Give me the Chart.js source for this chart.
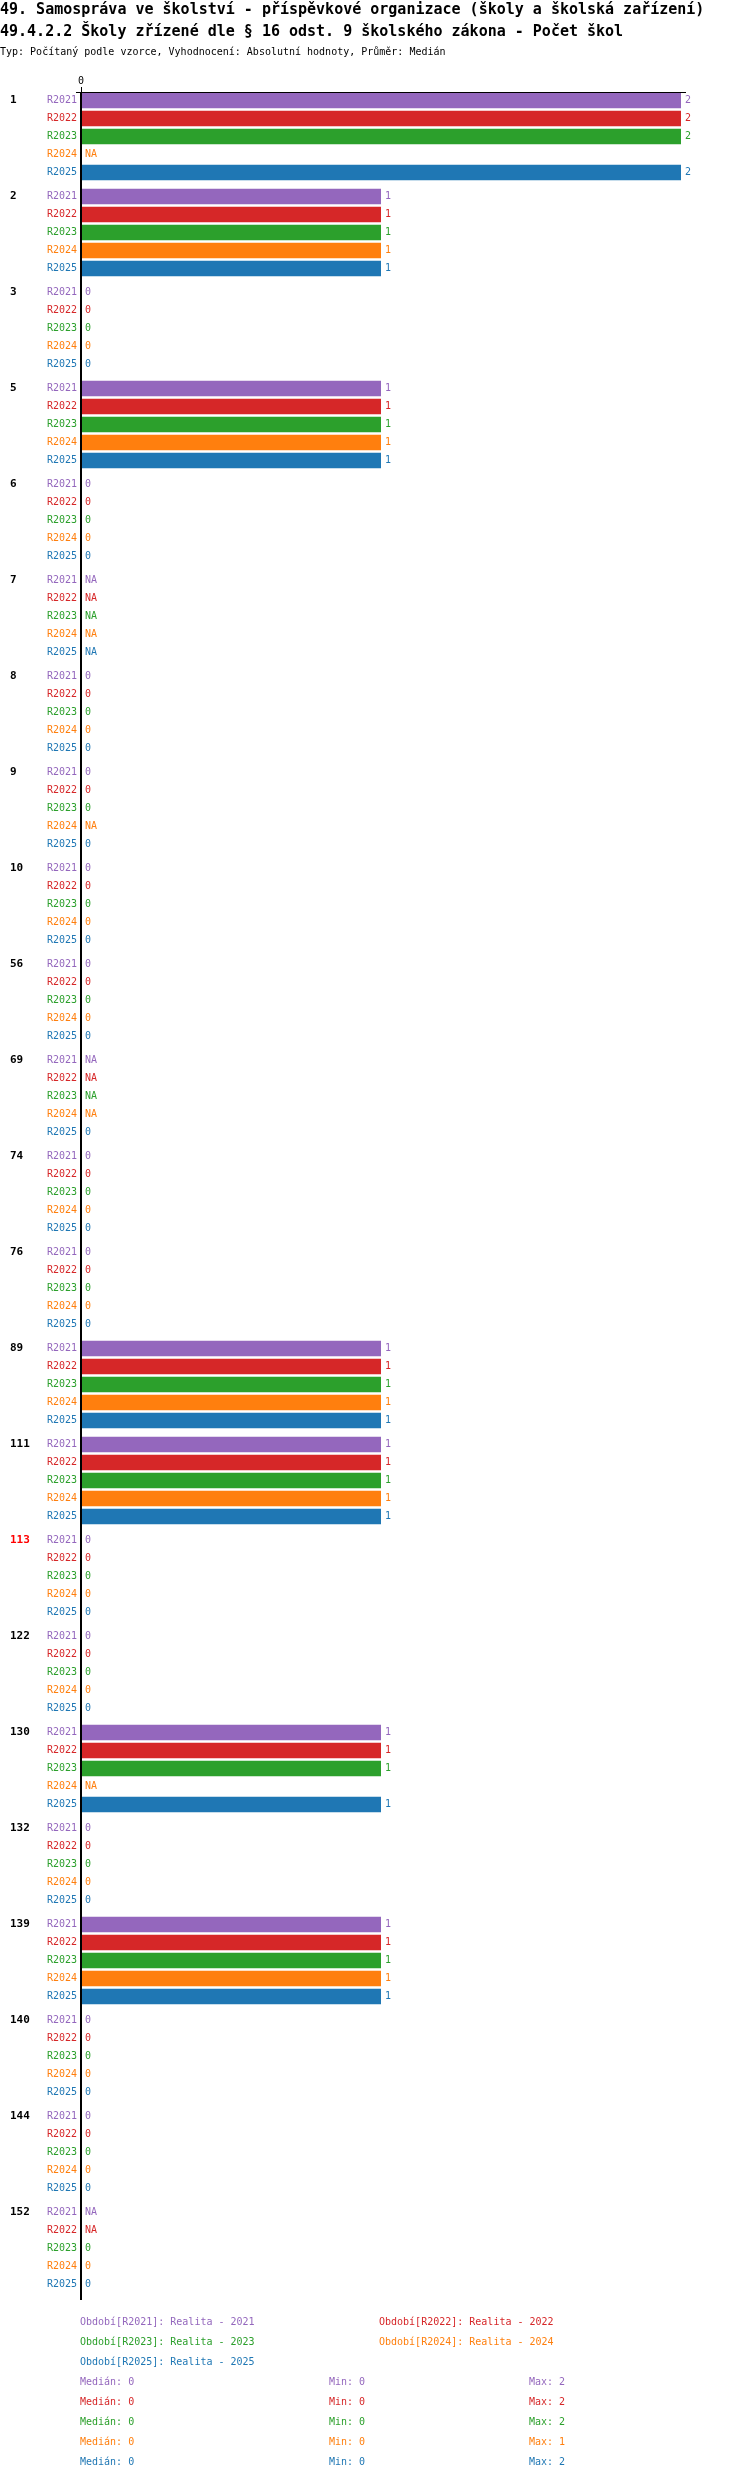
<!DOCTYPE html>
<html>
<head>
<meta charset="utf-8">
<title>49.4.2.2 Školy zřízené dle § 16 odst. 9 školského zákona - Počet škol</title>
<script src="https://cdn.jsdelivr.net/npm/chart.js@4.4.0/dist/chart.umd.min.js"></script>
<style>
  html, body { margin: 0; padding: 0; background: #ffffff; }
  #chart { display: block; }
</style>
</head>
<body>
<canvas id="chart" width="750" height="2480"></canvas>
<script>
const titleLines = [
  '49. Samospráva ve školství - příspěvkové organizace (školy a školská zařízení)',
  '49.4.2.2 Školy zřízené dle § 16 odst. 9 školského zákona - Počet škol',
];
const subtitle = 'Typ: Počítaný podle vzorce, Vyhodnocení: Absolutní hodnoty, Průměr: Medián';

const categories = ['1', '2', '3', '5', '6', '7', '8', '9', '10', '56', '69', '74', '76', '89', '111', '113', '122', '130', '132', '139', '140', '144', '152'];
const highlighted = ['113']; // red category label

const periods = ['R2021', 'R2022', 'R2023', 'R2024', 'R2025'];
const periodNames = ['Realita - 2021', 'Realita - 2022', 'Realita - 2023', 'Realita - 2024', 'Realita - 2025'];

// null = NA
const r2021 = [2, 1, 0, 1, 0, null, 0, 0, 0, 0, null, 0, 0, 1, 1, 0, 0, 1, 0, 1, 0, 0, null];
const r2022 = [2, 1, 0, 1, 0, null, 0, 0, 0, 0, null, 0, 0, 1, 1, 0, 0, 1, 0, 1, 0, 0, null];
const r2023 = [2, 1, 0, 1, 0, null, 0, 0, 0, 0, null, 0, 0, 1, 1, 0, 0, 1, 0, 1, 0, 0, 0];
const r2024 = [null, 1, 0, 1, 0, null, 0, null, 0, 0, null, 0, 0, 1, 1, 0, 0, null, 0, 1, 0, 0, 0];
const r2025 = [2, 1, 0, 1, 0, null, 0, 0, 0, 0, 0, 0, 0, 1, 1, 0, 0, 1, 0, 1, 0, 0, 0];

const xTicks = [0];

const seriesValues = [r2021, r2022, r2023, r2024, r2025];
const colors = ['#9467bd', '#d62728', '#2ca02c', '#ff7f0e', '#1f77b4'];

const FONT = "'DejaVu Sans Mono', 'Liberation Mono', monospace";

function median(values) {
  const v = values.filter((x) => x !== null).sort((a, b) => a - b);
  if (!v.length) return null;
  const mid = Math.floor(v.length / 2);
  return v.length % 2 ? v[mid] : (v[mid - 1] + v[mid]) / 2;
}

function stats(values) {
  const v = values.filter((x) => x !== null);
  return { med: median(values), min: Math.min(...v), max: Math.max(...v) };
}

const CAT_PCT = 0.9375;

// draws titles, axis lines, labels, legend and stats
const decorations = {
  id: 'decorations',
  beforeDraw(chart) {
    const ctx = chart.ctx;
    ctx.save();
    ctx.fillStyle = '#ffffff';
    ctx.fillRect(0, 0, chart.width, chart.height);
    ctx.restore();
  },
  afterDatasetsDraw(chart) {
    const ctx = chart.ctx;
    const xScale = chart.scales.x;
    const yScale = chart.scales.y;
    const area = chart.chartArea;
    const x0 = Math.round(xScale.getPixelForValue(0));
    const band = yScale.getPixelForValue(1) - yScale.getPixelForValue(0);
    const slot = (band * CAT_PCT) / periods.length;
    const axisTop = 92;
    const axisBottom = 2300;

    ctx.save();
    ctx.textBaseline = 'middle';

    // titles
    ctx.fillStyle = '#000000';
    ctx.textAlign = 'left';
    ctx.font = `bold 15px ${FONT}`;
    ctx.fillText(titleLines[0], 0, 10);
    ctx.fillText(titleLines[1], 0, 32);
    ctx.font = `10px ${FONT}`;
    ctx.fillText(subtitle, 0, 52);

    // x axis on top
    ctx.strokeStyle = '#000000';
    ctx.lineWidth = 1;
    ctx.beginPath();
    ctx.moveTo(76, axisTop + 0.5);
    ctx.lineTo(area.right + 5, axisTop + 0.5);
    ctx.stroke();
    ctx.textAlign = 'center';
    ctx.font = `10px ${FONT}`;
    xTicks.forEach((t) => {
      const px = Math.round(xScale.getPixelForValue(t));
      ctx.fillText(String(t), px, 81);
      ctx.beginPath();
      ctx.moveTo(px + 0.5, axisTop - 5);
      ctx.lineTo(px + 0.5, axisTop);
      ctx.stroke();
    });

    // y axis line
    ctx.lineWidth = 2;
    ctx.beginPath();
    ctx.moveTo(x0, axisTop);
    ctx.lineTo(x0, axisBottom);
    ctx.stroke();

    categories.forEach((cat, i) => {
      const center = yScale.getPixelForValue(i);
      const firstY = center - 2 * slot;

      // category label
      ctx.textAlign = 'left';
      ctx.font = `bold 11px ${FONT}`;
      ctx.fillStyle = highlighted.includes(cat) ? '#ff0000' : '#000000';
      ctx.fillText(cat, 10, firstY);

      periods.forEach((p, d) => {
        const el = chart.getDatasetMeta(d).data[i];
        const y = el && Number.isFinite(el.y) ? el.y : center + (d - 2) * slot;
        const v = seriesValues[d][i];
        ctx.font = `10px ${FONT}`;
        ctx.fillStyle = colors[d];

        ctx.textAlign = 'right';
        ctx.fillText(p, x0 - 4, y);

        ctx.textAlign = 'left';
        const txt = v === null ? 'NA' : String(v);
        const px = v ? xScale.getPixelForValue(v) + 4 : x0 + 4;
        ctx.fillText(txt, px, y);
      });
    });

    // legend
    ctx.textAlign = 'left';
    ctx.font = `10px ${FONT}`;
    periods.forEach((p, d) => {
      const col = d % 2;
      const row = Math.floor(d / 2);
      ctx.fillStyle = colors[d];
      ctx.fillText(`Období[${p}]: ${periodNames[d]}`, col ? 379 : 80, 2322 + row * 20);
    });

    // stats per series
    seriesValues.forEach((values, d) => {
      const s = stats(values);
      const y = 2382 + d * 20;
      ctx.fillStyle = colors[d];
      ctx.fillText(`Medián: ${s.med}`, 80, y);
      ctx.fillText(`Min: ${s.min}`, 329, y);
      ctx.fillText(`Max: ${s.max}`, 529, y);
    });

    ctx.restore();
  },
};

const ctx = document.getElementById('chart').getContext('2d');

new Chart(ctx, {
  type: 'bar',
  data: {
    labels: categories,
    datasets: periods.map((p, d) => ({
      label: p,
      data: seriesValues[d],
      backgroundColor: colors[d],
      borderWidth: 0,
      categoryPercentage: CAT_PCT,
      barPercentage: 0.87,
    })),
  },
  options: {
    indexAxis: 'y',
    responsive: false,
    devicePixelRatio: 1,
    animation: false,
    layout: {
      padding: { top: 88.5, left: 81, right: 69, bottom: 183.5 },
    },
    plugins: {
      legend: { display: false },
      tooltip: { enabled: false },
      title: { display: false },
    },
    scales: {
      x: {
        display: false,
        min: 0,
        max: 2,
      },
      y: {
        display: false,
      },
    },
  },
  plugins: [decorations],
});
</script>
</body>
</html>
